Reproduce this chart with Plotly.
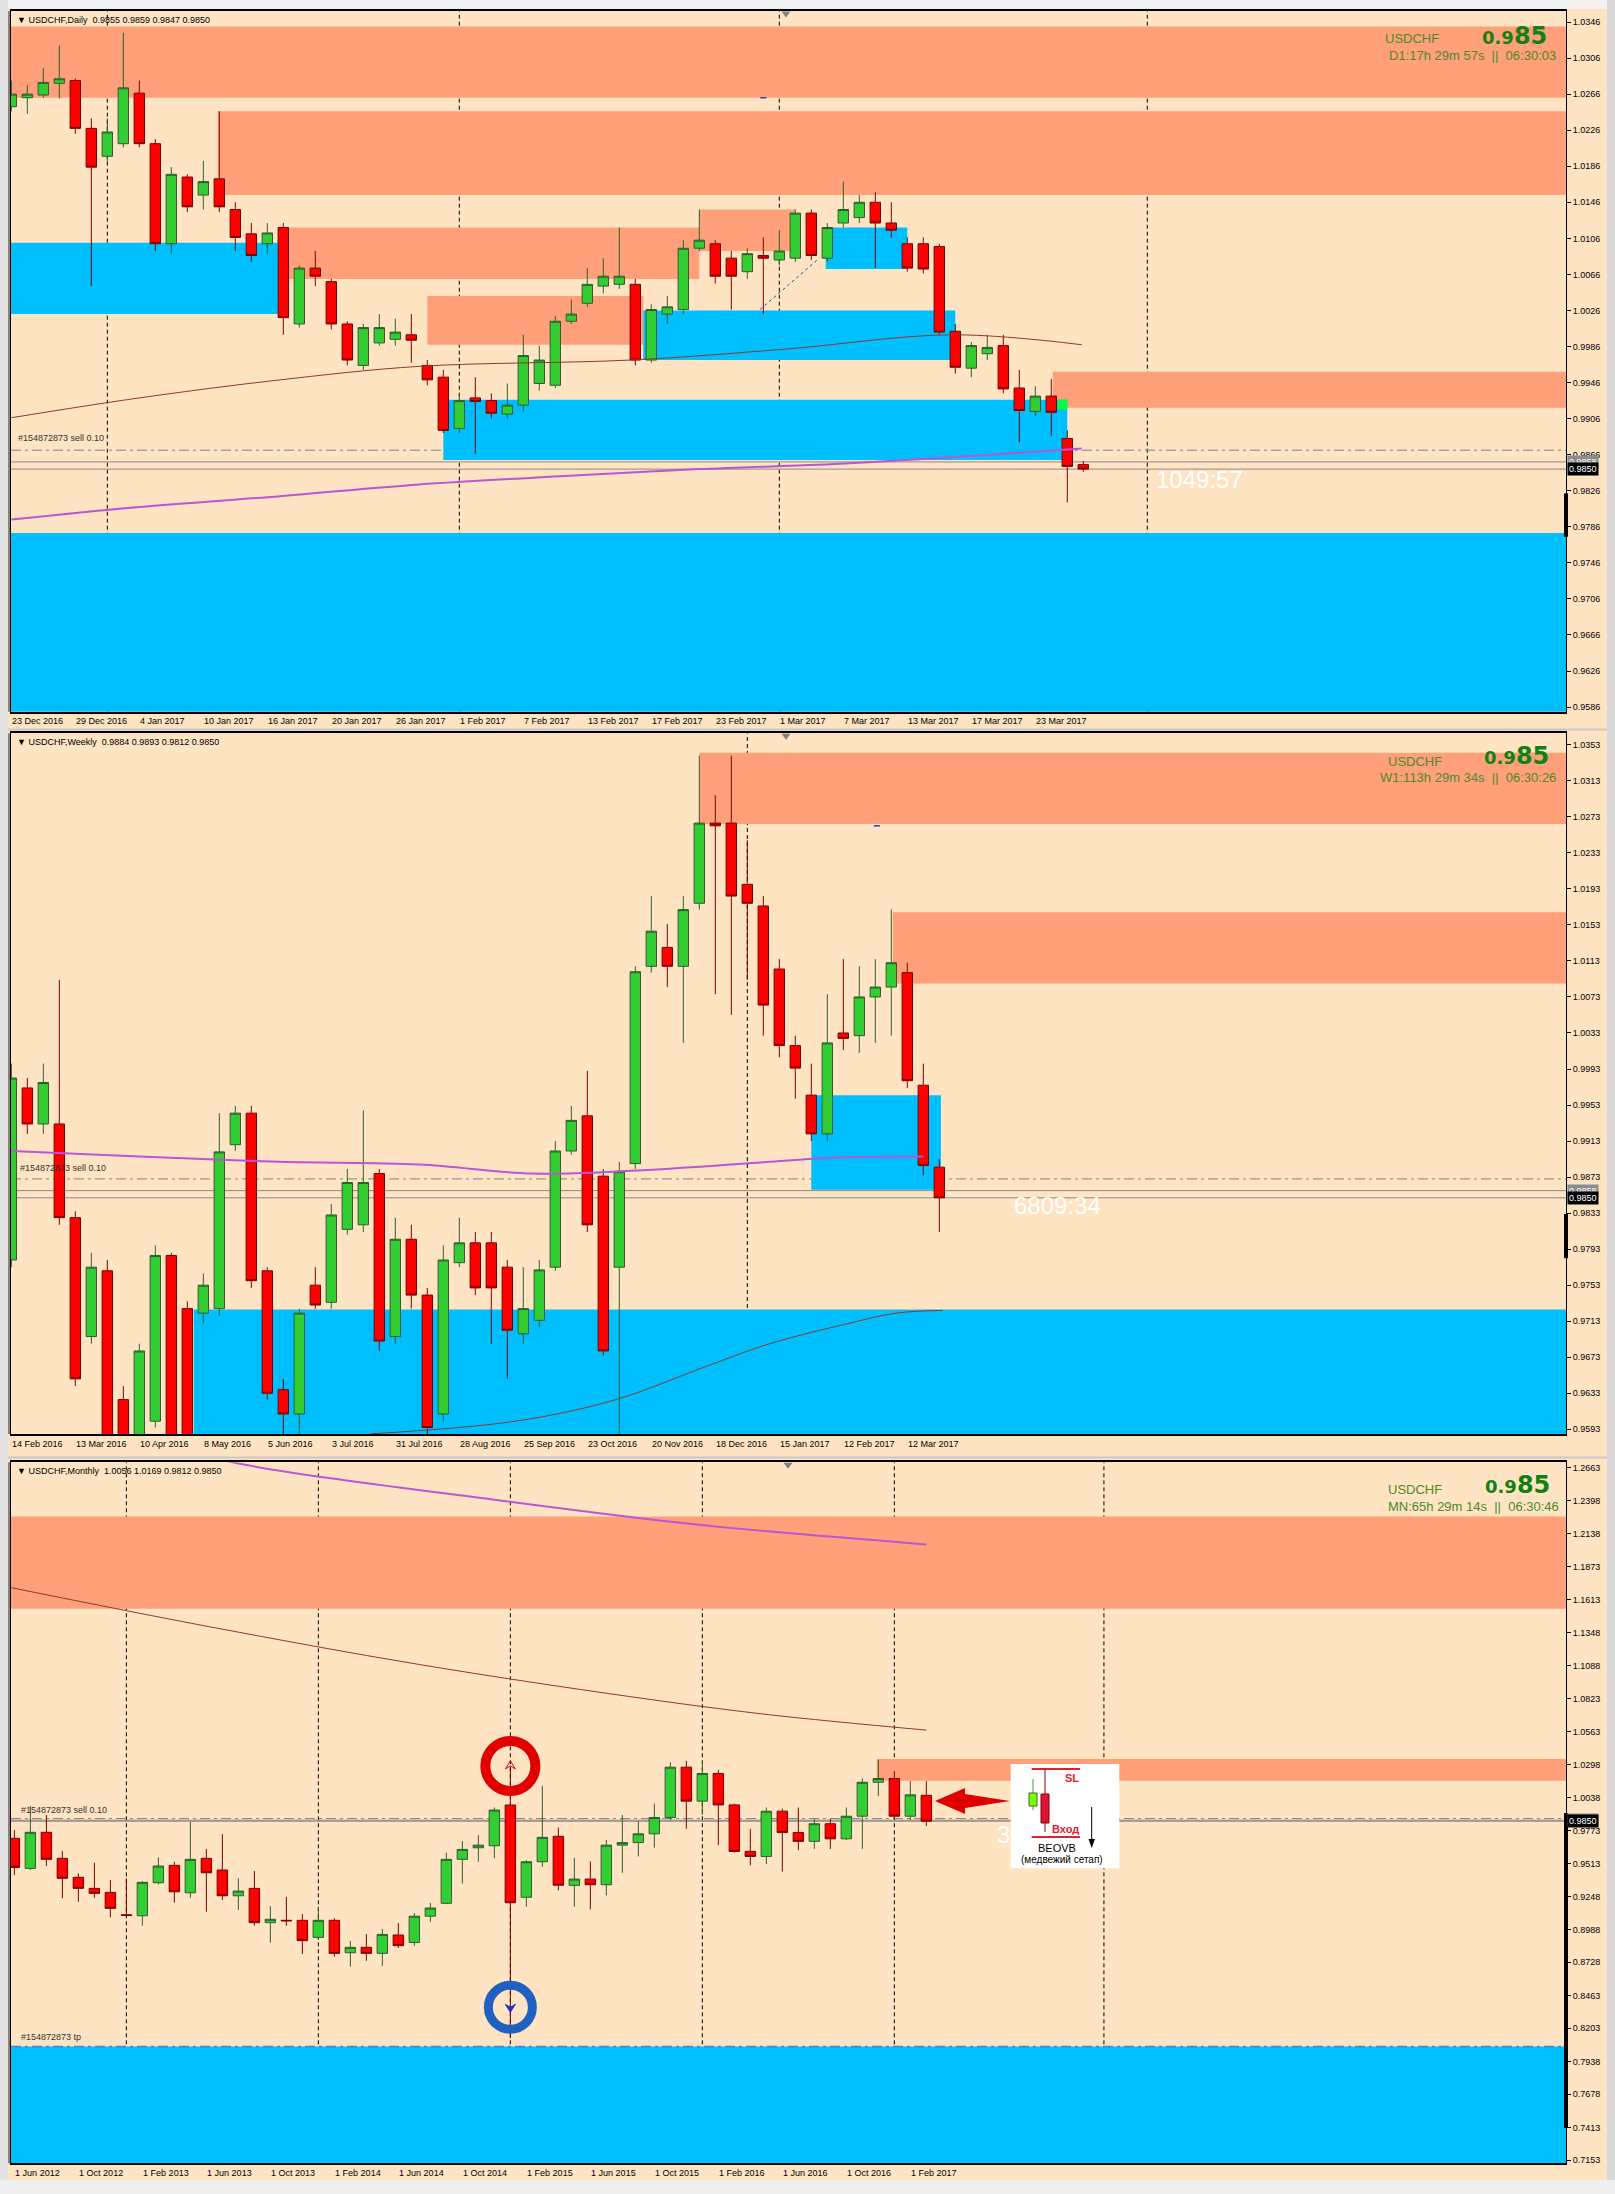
import plotly.graph_objects as go

W, H = 1615, 2194

# ======================= DATA =======================
# ---- Daily (D1) ----
d_labels = ["23 Dec 2016", "29 Dec 2016", "4 Jan 2017", "10 Jan 2017", "16 Jan 2017", "20 Jan 2017",
            "26 Jan 2017", "1 Feb 2017", "7 Feb 2017", "13 Feb 2017", "17 Feb 2017", "23 Feb 2017",
            "1 Mar 2017", "7 Mar 2017", "13 Mar 2017", "17 Mar 2017", "23 Mar 2017"]
d_label_bars = [0, 4, 8, 12, 16, 20, 24, 28, 32, 36, 40, 44, 48, 52, 56, 60, 64]
d_open = [1.0252, 1.0262, 1.0265, 1.0278, 1.0281, 1.0228, 1.0197, 1.0211, 1.0267, 1.0211,
          1.0100, 1.0174, 1.0154, 1.0172, 1.0138, 1.0111, 1.0100, 1.0118, 1.0011, 1.0073,
          1.0058, 1.0011, 0.9965, 0.9990, 0.9994, 0.9999, 0.9965, 0.9952, 0.9895, 0.9929,
          0.9926, 0.9911, 0.9921, 0.9945, 0.9943, 1.0014, 1.0034, 1.0053, 1.0055, 1.0055,
          0.9971, 1.0022, 1.0027, 1.0095, 1.0100, 1.0084, 1.0069, 1.0087, 1.0082, 1.0084,
          1.0134, 1.0084, 1.0123, 1.0129, 1.0146, 1.0123, 1.0100, 1.0100, 1.0097, 1.0003,
          0.9962, 0.9978, 0.9987, 0.9940, 0.9914, 0.9931, 0.9884, 0.9855]
d_high = [1.0281, 1.0276, 1.0295, 1.0320, 1.0283, 1.0239, 1.0239, 1.0334, 1.0281, 1.0216,
          1.0185, 1.0177, 1.0192, 1.0247, 1.0146, 1.0123, 1.0123, 1.0123, 1.0076, 1.0092,
          1.0061, 1.0014, 1.0011, 1.0022, 1.0017, 1.0022, 0.9971, 0.9960, 0.9934, 0.9952,
          0.9934, 0.9945, 0.9999, 0.9987, 1.0020, 1.0038, 1.0073, 1.0084, 1.0118, 1.0061,
          1.0033, 1.0042, 1.0104, 1.0138, 1.0104, 1.0092, 1.0095, 1.0107, 1.0115, 1.0138,
          1.0138, 1.0123, 1.0169, 1.0154, 1.0157, 1.0146, 1.0107, 1.0107, 1.0100, 1.0011,
          0.9991, 0.9999, 0.9999, 0.9960, 0.9942, 0.9950, 0.9893, 0.9859]
d_low = [1.0247, 1.0244, 1.0262, 1.0261, 1.0222, 1.0053, 1.0191, 1.0207, 1.0207, 1.0092,
         1.0089, 1.0135, 1.0138, 1.0135, 1.0092, 1.0080, 1.0089, 0.9999, 1.0007, 1.0053,
         1.0005, 0.9965, 0.9960, 0.9987, 0.9987, 0.9968, 0.9943, 0.9890, 0.9890, 0.9867,
         0.9906, 0.9906, 0.9914, 0.9937, 0.9940, 1.0011, 1.0030, 1.0045, 1.0050, 0.9965,
         0.9968, 1.0011, 1.0022, 1.0092, 1.0056, 1.0027, 1.0061, 1.0022, 1.0076, 1.0080,
         1.0082, 1.0080, 1.0118, 1.0123, 1.0073, 1.0107, 1.0069, 1.0067, 0.9999, 0.9956,
         0.9952, 0.9971, 0.9934, 0.9880, 0.9909, 0.9887, 0.9813, 0.9847]
d_close = [1.0266, 1.0266, 1.0279, 1.0283, 1.0228, 1.0185, 1.0224, 1.0273, 1.0211, 1.0100,
           1.0177, 1.0141, 1.0169, 1.0141, 1.0107, 1.0087, 1.0112, 1.0018, 1.0073, 1.0064,
           1.0011, 0.9971, 1.0007, 1.0007, 1.0002, 0.9993, 0.9949, 0.9893, 0.9926, 0.9925,
           0.9912, 0.9921, 0.9976, 0.9971, 1.0014, 1.0022, 1.0055, 1.0064, 1.0064, 0.9971,
           1.0027, 1.0030, 1.0095, 1.0104, 1.0064, 1.0064, 1.0089, 1.0084, 1.0092, 1.0134,
           1.0087, 1.0118, 1.0138, 1.0146, 1.0123, 1.0115, 1.0073, 1.0072, 1.0002, 0.9963,
           0.9987, 0.9985, 0.9939, 0.9915, 0.9931, 0.9913, 0.9853, 0.9850]
d_ticks = [1.0346, 1.0306, 1.0266, 1.0226, 1.0186, 1.0146, 1.0106, 1.0066, 1.0026, 0.9986,
           0.9946, 0.9906, 0.9866, 0.9826, 0.9786, 0.9746, 0.9706, 0.9666, 0.9626, 0.9586]
d_ma_brown_x = [0, 8, 16.8, 25.5, 38.7, 48.3, 58.8, 66.9]
d_ma_brown = [0.9907, 0.9929, 0.9949, 0.9964, 0.9971, 0.9983, 0.9999, 0.9988]
d_ma_purple_x = [0, 8, 16.8, 25.5, 34.3, 43.0, 51.8, 60.5, 66.9]
d_ma_purple = [0.9794, 0.9808, 0.9820, 0.9833, 0.9842, 0.9850, 0.9856, 0.9865, 0.9873]
# zones: (bar_from, bar_to, price_top, price_bottom, kind)
d_zones = [(-1, 200, 1.0341, 1.0262, "supply"), (12.9, 200, 1.0247, 1.0154, "supply"),
           (16.8, 43.0, 1.0118, 1.0061, "supply"), (26.0, 39.5, 1.0042, 0.9988, "supply"),
           (43.0, 49.0, 1.0138, 1.0092, "supply"), (65.1, 200, 0.9958, 0.9918, "supply"),
           (-1, 16.8, 1.0101, 1.0022, "demand"), (39.5, 59.0, 1.0026, 0.9971, "demand"),
           (50.9, 56.0, 1.0118, 1.0072, "demand"), (27.0, 66.0, 0.9927, 0.9860, "demand"),
           (-1, 200, 0.9779, 0.9000, "demand"), (65.4, 66.0, 0.9927, 0.9916, "mark")]
d_separators = [6, 28, 48, 71]
d_header = "USDCHF,Daily  0.9855 0.9859 0.9847 0.9850"
d_timer = "D1:17h 29m 57s  ||  06:30:03"
d_countdown = "1049:57"
d_trend = [(46.8, 1.0027), (50.5, 1.0084)]
d_range_bar = (0.9823, 0.9775)
d_tick_mark = (47.0, 1.0262)

# ---- Weekly (W1) ----
w_labels = ["14 Feb 2016", "13 Mar 2016", "10 Apr 2016", "8 May 2016", "5 Jun 2016", "3 Jul 2016",
            "31 Jul 2016", "28 Aug 2016", "25 Sep 2016", "23 Oct 2016", "20 Nov 2016", "18 Dec 2016",
            "15 Jan 2017", "12 Feb 2017", "12 Mar 2017"]
w_label_bars = [0, 4, 8, 12, 16, 20, 24, 28, 32, 36, 40, 44, 48, 52, 56]
w_open = [0.9781, 0.9972, 0.9932, 0.9932, 0.9828, 0.9696, 0.9769, 0.9626, 0.9587, 0.9602,
          0.9786, 0.9727, 0.9722, 0.9727, 0.9909, 0.9944, 0.9769, 0.9637, 0.9610, 0.9753,
          0.9734, 0.9815, 0.9820, 0.9877, 0.9696, 0.9804, 0.9742, 0.9610, 0.9778, 0.9800,
          0.9800, 0.9773, 0.9699, 0.9714, 0.9773, 0.9902, 0.9941, 0.9874, 0.9773, 0.9888,
          1.0107, 1.0128, 1.0107, 1.0177, 1.0266, 1.0266, 1.0198, 1.0174, 1.0104, 1.0019,
          0.9964, 0.9921, 1.0033, 1.0030, 1.0073, 1.0084, 1.0100, 0.9975, 0.9884]
w_high = [0.9999, 0.9983, 0.9999, 1.0092, 0.9835, 0.9789, 0.9781, 0.9641, 0.9688, 0.9797,
          0.9789, 0.9735, 0.9766, 0.9944, 0.9952, 0.9952, 0.9773, 0.9649, 0.9727, 0.9773,
          0.9843, 0.9882, 0.9947, 0.9882, 0.9828, 0.9820, 0.9750, 0.9797, 0.9828, 0.9812,
          0.9812, 0.9781, 0.9773, 0.9781, 0.9913, 0.9952, 0.9991, 0.9882, 0.9890, 1.0107,
          1.0185, 1.0154, 1.0185, 1.0341, 1.0297, 1.0341, 1.0247, 1.0185, 1.0115, 1.0030,
          0.9999, 1.0076, 1.0115, 1.0107, 1.0115, 1.0170, 1.0111, 0.9999, 0.9893]
w_low = [0.9773, 0.9921, 0.9921, 0.9820, 0.9641, 0.9688, 0.9564, 0.9564, 0.9564, 0.9595,
         0.9564, 0.9564, 0.9711, 0.9719, 0.9902, 0.9750, 0.9626, 0.9579, 0.9579, 0.9727,
         0.9727, 0.9809, 0.9812, 0.9680, 0.9688, 0.9727, 0.9564, 0.9602, 0.9773, 0.9742,
         0.9688, 0.9649, 0.9688, 0.9706, 0.9769, 0.9898, 0.9812, 0.9675, 0.9560, 0.9882,
         1.0100, 1.0084, 1.0022, 1.0170, 1.0076, 1.0053, 1.0092, 1.0030, 1.0006, 0.9960,
         0.9913, 0.9913, 1.0014, 1.0011, 1.0022, 1.0030, 0.9972, 0.9875, 0.9812]
w_close = [0.9983, 0.9932, 0.9978, 0.9828, 0.9649, 0.9773, 0.9579, 0.9579, 0.9680, 0.9786,
           0.9579, 0.9579, 0.9753, 0.9901, 0.9944, 0.9758, 0.9633, 0.9610, 0.9722, 0.9731,
           0.9831, 0.9867, 0.9867, 0.9691, 0.9804, 0.9742, 0.9595, 0.9781, 0.9800, 0.9750,
           0.9750, 0.9703, 0.9727, 0.9770, 0.9902, 0.9936, 0.9820, 0.9680, 0.9879, 1.0101,
           1.0146, 1.0107, 1.0170, 1.0266, 1.0263, 1.0185, 1.0177, 1.0064, 1.0019, 0.9994,
           0.9921, 1.0022, 1.0027, 1.0073, 1.0084, 1.0111, 0.9980, 0.9886, 0.9850]
w_ticks = [1.0353, 1.0313, 1.0273, 1.0233, 1.0193, 1.0153, 1.0113, 1.0073, 1.0033, 0.9993,
           0.9953, 0.9913, 0.9873, 0.9833, 0.9793, 0.9753, 0.9713, 0.9673, 0.9633, 0.9593]
w_ma_brown_x = [22.5, 31.5, 37.8, 43.0, 47.4, 52.2, 55.3, 58.2]
w_ma_brown = [0.9588, 0.9602, 0.9626, 0.9660, 0.9688, 0.9710, 0.9722, 0.9725]
w_ma_purple_x = [0, 8, 16.8, 25.5, 32.5, 38.7, 47.4, 51.8, 57.0]
w_ma_purple = [0.9902, 0.9896, 0.9890, 0.9887, 0.9877, 0.9880, 0.9890, 0.9895, 0.9896]
w_zones = [(43.0, 200, 1.0344, 1.0265, "supply"), (55.1, 200, 1.0167, 1.0088, "supply"),
           (50.0, 58.1, 0.9964, 0.9859, "demand"), (11.4, 200, 0.9726, 0.9000, "demand")]
w_separators = [46]
w_header = "USDCHF,Weekly  0.9884 0.9893 0.9812 0.9850"
w_timer = "W1:113h 29m 34s  ||  06:30:26"
w_countdown = "6809:34"
w_range_bar = (0.9832, 0.9783)
w_tick_mark = (54.1, 1.0263)

# ---- Monthly (MN) ----
m_labels = ["1 Jun 2012", "1 Oct 2012", "1 Feb 2013", "1 Jun 2013", "1 Oct 2013", "1 Feb 2014",
            "1 Jun 2014", "1 Oct 2014", "1 Feb 2015", "1 Jun 2015", "1 Oct 2015", "1 Feb 2016",
            "1 Jun 2016", "1 Oct 2016", "1 Feb 2017"]
m_label_bars = [0, 4, 8, 12, 16, 20, 24, 28, 32, 36, 40, 44, 48, 52, 56]
m_open = [0.9714, 0.9475, 0.9762, 0.9555, 0.9404, 0.9316, 0.9284, 0.9106, 0.9098, 0.9361,
          0.9499, 0.9281, 0.9555, 0.9462, 0.9257, 0.9316, 0.9043, 0.9062, 0.9062, 0.8926,
          0.9062, 0.8804, 0.8847, 0.8799, 0.8945, 0.8885, 0.9095, 0.9197, 0.9547, 0.9639,
          0.9655, 0.9979, 0.9245, 0.9528, 0.9730, 0.9340, 0.9390, 0.9345, 0.9660, 0.9680,
          0.9750, 0.9880, 1.0280, 1.0010, 1.0230, 0.9980, 0.9610, 0.9570, 0.9930, 0.9760,
          0.9690, 0.9830, 0.9710, 0.9890, 1.0160, 1.0190, 0.9890, 1.0056]
m_high = [0.9780, 0.9971, 0.9899, 0.9613, 0.9435, 0.9520, 0.9382, 0.9396, 0.9374, 0.9563,
          0.9528, 0.9846, 0.9629, 0.9748, 0.9396, 0.9454, 0.9175, 0.9249, 0.9112, 0.9170,
          0.9078, 0.8897, 0.8953, 0.8992, 0.9040, 0.9120, 0.9200, 0.9600, 0.9692, 0.9740,
          0.9960, 1.0284, 0.9540, 1.0132, 0.9800, 0.9560, 0.9530, 0.9700, 0.9900, 0.9850,
          0.9990, 1.0320, 1.0330, 1.0330, 1.0260, 0.9990, 0.9790, 0.9960, 0.9950, 0.9960,
          0.9870, 0.9870, 0.9960, 1.0190, 1.0340, 1.0250, 1.0170, 1.0169]
m_low = [0.9422, 0.9462, 0.9494, 0.9237, 0.9210, 0.9241, 0.9085, 0.9090, 0.9019, 0.9348,
         0.9202, 0.9241, 0.9130, 0.9223, 0.9144, 0.9019, 0.8883, 0.9019, 0.8794, 0.8905,
         0.8772, 0.8692, 0.8740, 0.8700, 0.8841, 0.8860, 0.9050, 0.9190, 0.9353, 0.9528,
         0.9555, 0.8124, 0.9170, 0.9488, 0.9300, 0.9170, 0.9150, 0.9260, 0.9440, 0.9570,
         0.9640, 0.9860, 0.9790, 0.9900, 0.9660, 0.9600, 0.9500, 0.9510, 0.9450, 0.9620,
         0.9630, 0.9630, 0.9700, 0.9630, 1.0050, 0.9870, 0.9860, 0.9812]
m_close = [0.9483, 0.9762, 0.9547, 0.9396, 0.9316, 0.9276, 0.9157, 0.9101, 0.9364, 0.9494,
           0.9289, 0.9547, 0.9440, 0.9257, 0.9295, 0.9043, 0.9070, 0.9058, 0.8900, 0.9062,
           0.8799, 0.8847, 0.8799, 0.8950, 0.8860, 0.9095, 0.9160, 0.9547, 0.9626, 0.9660,
           0.9939, 0.9202, 0.9528, 0.9722, 0.9341, 0.9390, 0.9345, 0.9660, 0.9680, 0.9750,
           0.9880, 1.0280, 1.0010, 1.0230, 0.9980, 0.9610, 0.9570, 0.9930, 0.9760, 0.9690,
           0.9830, 0.9710, 0.9890, 1.0160, 1.0190, 0.9890, 1.0060, 0.9850]
m_ticks = [1.2663, 1.2398, 1.2138, 1.1873, 1.1613, 1.1348, 1.1088, 1.0823, 1.0563, 1.0298, 1.0038,
           0.9773, 0.9513, 0.9248, 0.8988, 0.8728, 0.8463, 0.8203, 0.7938, 0.7678, 0.7413, 0.7153]
m_ma_brown_x = [-0.2, 12.2, 25.3, 38.5, 47.2, 57.0]
m_ma_brown = [1.1708, 1.1397, 1.1097, 1.0841, 1.0697, 1.0575]
m_ma_purple_x = [9.6, 14.0, 30.0, 42.8, 57.0]
m_ma_purple = [1.2850, 1.2696, 1.2408, 1.2208, 1.2052]
m_zones = [(-1, 200, 1.2275, 1.1540, "supply"), (53.9, 200, 1.0346, 1.0172, "supply"),
           (-1, 200, 0.8059, 0.6000, "demand")]
m_separators = [7, 19, 31, 43, 55, 68.1]
m_header = "USDCHF,Monthly  1.0056 1.0169 0.9812 0.9850"
m_timer = "MN:65h 29m 14s  ||  06:30:46"
m_range_bar = (0.9916, 0.7410)
m_spike_bar = 31
m_spike_high_mark = 1.0290
m_spike_low_mark = 0.8370

# trade levels
entry_price = 0.9871
tp_price = 0.8059
bid_price = 0.9850
ask_price = 0.9858
symbol = "USDCHF"
last_price = "0.985"

# ======================= STYLE / LAYOUT =======================
BG = "#FFE4C4"
SUPPLY = "#FFA07A"
DEMAND = "#00BFFF"
MARK = "#00FF40"
FONT = "Liberation Sans, Arial, DejaVu Sans"
X_LEFT, X_RIGHT = 11.0, 1566.0

panels = [
    dict(top=11.0, bottom=711.7, xr=[-0.02, 97.17], yr=[0.95809, 1.03582]),
    dict(top=733.3, bottom=1434.0, xr=[-0.02, 97.17], yr=[0.95878, 1.03657]),
    dict(top=1462.3, bottom=2163.3, xr=[-0.21, 96.98], yr=[0.71291, 1.27052]),
]

fig = go.Figure()


def px(x):
    return x / W


def py(y):
    return 1 - y / H


def axnames(i):
    s = "" if i == 0 else str(i + 1)
    return "x" + s, "y" + s, "xaxis" + s, "yaxis" + s


datasets = [
    (d_open, d_high, d_low, d_close, d_labels, d_label_bars, d_ticks, d_zones, d_separators,
     (d_ma_brown_x, d_ma_brown), (d_ma_purple_x, d_ma_purple)),
    (w_open, w_high, w_low, w_close, w_labels, w_label_bars, w_ticks, w_zones, w_separators,
     (w_ma_brown_x, w_ma_brown), (w_ma_purple_x, w_ma_purple)),
    (m_open, m_high, m_low, m_close, m_labels, m_label_bars, m_ticks, m_zones, m_separators,
     (m_ma_brown_x, m_ma_brown), (m_ma_purple_x, m_ma_purple)),
]

layout_axes = {}
for i, (pan, ds) in enumerate(zip(panels, datasets)):
    o, h, l, c, labels, lbars, ticks, zones, seps, mab, map_ = ds
    xa, ya, xk, yk = axnames(i)
    layout_axes[xk] = dict(domain=[px(X_LEFT), px(X_RIGHT)], range=pan["xr"], anchor=ya,
                           showgrid=False, zeroline=False, tickmode="array", tickvals=lbars,
                           ticktext=labels, ticks="", ticklabelposition="outside right",
                           tickfont=dict(family=FONT, size=9, color="black"), showline=True,
                           linecolor="black", linewidth=1.5, mirror=True,
                           rangeslider=dict(visible=False), fixedrange=True, automargin=False)
    layout_axes[yk] = dict(domain=[py(pan["bottom"]), py(pan["top"])], range=pan["yr"], anchor=xa,
                           side="right", showgrid=False, zeroline=False, tickmode="array",
                           tickvals=ticks, ticktext=[f"{v:.4f}" for v in ticks], ticks="outside",
                           ticklen=4, tickcolor="black",
                           tickfont=dict(family=FONT, size=9, color="black"), showline=True,
                           linecolor="black", linewidth=1, mirror=True, fixedrange=True,
                           automargin=False)
    # zones
    for (x0, x1, p0, p1, kind) in zones:
        col = {"supply": SUPPLY, "demand": DEMAND, "mark": MARK}[kind]
        fig.add_shape(type="rect", xref=xa, yref=ya, x0=x0, x1=x1, y0=p1, y1=p0,
                      fillcolor=col, line=dict(width=0), layer="below")
    # separators
    for s in seps:
        fig.add_shape(type="line", xref=xa, yref=ya + " domain", x0=s, x1=s, y0=0, y1=1,
                      line=dict(color="black", width=1, dash="4px,3px"), layer="below")
    # trade levels
    fig.add_shape(type="line", xref=xa + " domain", yref=ya, x0=0, x1=1, y0=entry_price,
                  y1=entry_price, line=dict(color="#808080", width=1, dash="10px,4px,3px,4px"),
                  layer="below")
    for p in (ask_price, bid_price):
        fig.add_shape(type="line", xref=xa + " domain", yref=ya, x0=0, x1=1, y0=p, y1=p,
                      line=dict(color="#8a8a8a", width=1), layer="below")
    # moving averages
    fig.add_trace(go.Scatter(x=mab[0], y=mab[1], xaxis=xa, yaxis=ya, mode="lines",
                             line=dict(color="#8B3A2A", width=1, shape="spline"), hoverinfo="skip"))
    fig.add_trace(go.Scatter(x=map_[0], y=map_[1], xaxis=xa, yaxis=ya, mode="lines",
                             line=dict(color="#BA55D3", width=2, shape="spline"), hoverinfo="skip"))
    # candles
    fig.add_trace(go.Candlestick(x=list(range(len(o))), open=o, high=h, low=l, close=c,
                                 xaxis=xa, yaxis=ya, hoverinfo="skip", whiskerwidth=0,
                                 increasing=dict(fillcolor="#32CD32",
                                                 line=dict(color="#2E5E2E", width=1)),
                                 decreasing=dict(fillcolor="#FF0000",
                                                 line=dict(color="#7A0000", width=1))))

# tp line in monthly
fig.add_shape(type="line", xref="x3 domain", yref="y3", x0=0, x1=1, y0=tp_price, y1=tp_price,
              line=dict(color="#5b78d8", width=1.5, dash="10px,4px,3px,4px"))

# daily blue trend line
fig.add_shape(type="line", xref="x", yref="y", x0=d_trend[0][0], y0=d_trend[0][1],
              x1=d_trend[1][0], y1=d_trend[1][1], line=dict(color="#2040C0", width=1, dash="dot"))

# small blue order marks
for (xa, ya, mk) in [("x", "y", d_tick_mark), ("x2", "y2", w_tick_mark)]:
    fig.add_shape(type="line", xref=xa, yref=ya, xsizemode="pixel", xanchor=mk[0], x0=-3, x1=3,
                  y0=mk[1], y1=mk[1], line=dict(color="#2040C0", width=1.5))

# thick range bars on price axes
for i, rb in enumerate([d_range_bar, w_range_bar, m_range_bar]):
    _, ya, _, _ = axnames(i)
    fig.add_shape(type="line", xref="paper", yref=ya, x0=px(X_RIGHT), x1=px(X_RIGHT),
                  y0=rb[0], y1=rb[1], line=dict(color="black", width=4))


def ann(text, x, y, size, color, xanchor="left", yanchor="middle", family=FONT, bg=None,
        yref="paper"):
    fig.add_annotation(text=text, x=px(x), y=(py(y) if yref == "paper" else y), xref="paper",
                       yref=yref, showarrow=False, xanchor=xanchor, yanchor=yanchor,
                       font=dict(size=size, color=color, family=family),
                       bgcolor=bg, borderpad=1)


NB = "\u00a0"
headers = [d_header, w_header, m_header]
timers = [d_timer, w_timer, m_timer]
hdr_y = [19.5, 741.7, 1471.0]
sym_pos = [(1383, 38.5), (1386, 761), (1386, 1489.5)]
big_pos = [(1480, 36), (1482, 756), (1483, 1485)]
tim_pos = [(1387, 55), (1378, 777), (1386, 1506)]
GREEN_TXT = "#4A8A2A"
for i in range(3):
    ann("\u25BC " + headers[i].replace("  ", NB + NB), 15, hdr_y[i], 9, "black")
    ann(symbol, sym_pos[i][0], sym_pos[i][1], 13, GREEN_TXT)
    ann("<b><span style='font-size:18px'>" + last_price[:3] + "</span>" + last_price[3:] + "</b>",
        big_pos[i][0], big_pos[i][1], 24, "#128012", family="DejaVu Sans")
    ann(timers[i].replace("  ", NB + NB), tim_pos[i][0], tim_pos[i][1], 13, GREEN_TXT)
    _, ya, _, _ = axnames(i)
    # price boxes
    ann(f"{ask_price:.4f}", 1567, ask_price, 9, "white", bg="#8c8c8c", yref=ya)
    ann(f"{bid_price:.4f}", 1567, bid_price, 9, "white", bg="black", yref=ya)

# countdown texts
ann(d_countdown, 1199, 479, 24, "white", xanchor="center")
ann(w_countdown, 1057, 1205, 24, "white", xanchor="center")
ann("3", 1003, 1834, 24, "white", xanchor="center")

# order labels
ann("#154872873 sell 0.10", 16, 445, 9, "#333333", yanchor="bottom")
ann("#154872873 sell 0.10", 18, 1175, 9, "#333333", yanchor="bottom")
ann("#154872873 sell 0.10", 19, 1817, 9, "#333333", yanchor="bottom")
ann("#154872873 tp", 19, 2044, 9, "#333333", yanchor="bottom")

# circles around the spike bar
fig.add_shape(type="circle", xref="x3", yref="y3", xsizemode="pixel", ysizemode="pixel",
              xanchor=m_spike_bar, yanchor=m_spike_high_mark, x0=-25, x1=25, y0=-25, y1=25,
              line=dict(color="#E00000", width=10))
fig.add_shape(type="circle", xref="x3", yref="y3", xsizemode="pixel", ysizemode="pixel",
              xanchor=m_spike_bar, yanchor=m_spike_low_mark, x0=-22, x1=22, y0=-22, y1=22,
              line=dict(color="#2060C0", width=9))
fig.add_shape(type="path", xref="x3", yref="y3", xsizemode="pixel", ysizemode="pixel",
              xanchor=m_spike_bar, yanchor=m_spike_high_mark,
              path="M -5,-3 L 0,5 L 5,-3 L 0,0 Z", line=dict(color="#E00000", width=1),
              fillcolor="rgba(0,0,0,0)")
fig.add_shape(type="path", xref="x3", yref="y3", xsizemode="pixel", ysizemode="pixel",
              xanchor=m_spike_bar, yanchor=m_spike_low_mark,
              path="M -5,3 L 0,-5 L 5,3 L 0,0 Z", line=dict(color="#2030C0", width=1),
              fillcolor="#2030C0")


def ppath(pts):
    return "M " + " L ".join(f"{px(x):.6f},{py(y):.6f}" for x, y in pts) + " Z"


# red pointer arrow
fig.add_shape(type="path", xref="paper", yref="paper",
              path=ppath([(935, 1801), (965, 1788), (965, 1794), (1010, 1801), (965, 1808), (965, 1814)]),
              fillcolor="#E00000", line=dict(width=0))

# BEOVB legend box
fig.add_shape(type="rect", xref="paper", yref="paper", x0=px(1010.7), x1=px(1119.3), y0=py(1868.3),
              y1=py(1764), fillcolor="white", line=dict(width=0))
for (yl) in (1769, 1837):
    fig.add_shape(type="line", xref="paper", yref="paper", x0=px(1031.7), x1=px(1080), y0=py(yl),
                  y1=py(yl), line=dict(color="#E0202A", width=2))
fig.add_shape(type="line", xref="paper", yref="paper", x0=px(1033), x1=px(1033), y0=py(1779),
              y1=py(1810), line=dict(color="#4C9A2A", width=1))
fig.add_shape(type="rect", xref="paper", yref="paper", x0=px(1029), x1=px(1037), y0=py(1806),
              y1=py(1793), fillcolor="#7CFC00", line=dict(color="#3A6A2A", width=1))
fig.add_shape(type="line", xref="paper", yref="paper", x0=px(1045), x1=px(1045), y0=py(1769),
              y1=py(1832), line=dict(color="#8B0000", width=1))
fig.add_shape(type="rect", xref="paper", yref="paper", x0=px(1041), x1=px(1049), y0=py(1823),
              y1=py(1794), fillcolor="#DC143C", line=dict(color="#8B0000", width=1))
fig.add_shape(type="line", xref="paper", yref="paper", x0=px(1091.7), x1=px(1091.7), y0=py(1807),
              y1=py(1846), line=dict(color="black", width=1))
fig.add_shape(type="path", xref="paper", yref="paper",
              path=ppath([(1088.5, 1839), (1091.7, 1848), (1094.9, 1839)]),
              fillcolor="black", line=dict(width=0))
ann("<b>SL</b>", 1072, 1778, 11, "#E0202A", xanchor="center")
ann("<b>Вход</b>", 1065, 1829, 11, "#E0202A", xanchor="center")
ann("BEOVB", 1057, 1847.5, 11, "black", xanchor="center")
ann("(медвежий сетап)", 1062, 1859.5, 10, "black", xanchor="center")

# chart shift markers
for (cx, cy) in [(786, 11.5), (786, 733.8), (788, 1462.8)]:
    fig.add_shape(type="path", xref="paper", yref="paper",
                  path=ppath([(cx - 4.5, cy), (cx + 4.5, cy), (cx, cy + 6)]),
                  fillcolor="#7f7f7f", line=dict(width=0))

# window frame
fig.add_shape(type="rect", xref="paper", yref="paper", x0=0, x1=1, y0=py(9), y1=1,
              fillcolor="#F2F2F2", line=dict(width=0))
fig.add_shape(type="rect", xref="paper", yref="paper", x0=0, x1=px(8), y0=0, y1=1,
              fillcolor="#E2E2E2", line=dict(width=0))
fig.add_shape(type="rect", xref="paper", yref="paper", x0=px(1607), x1=1, y0=0, y1=1,
              fillcolor="#D9D9D9", line=dict(width=0))
fig.add_shape(type="rect", xref="paper", yref="paper", x0=0, x1=1, y0=0, y1=py(2180),
              fillcolor="#EFEFEF", line=dict(width=0))
for yl in (729.5, 1457.5):
    fig.add_shape(type="line", xref="paper", yref="paper", x0=px(8), x1=px(1607), y0=py(yl),
                  y1=py(yl), line=dict(color="#C8C8C8", width=2))
for pan in panels:
    fig.add_shape(type="line", xref="paper", yref="paper", x0=px(9), x1=px(9), y0=py(pan["bottom"]),
                  y1=py(pan["top"]), line=dict(color="#202020", width=1))

fig.update_layout(width=W, height=H, margin=dict(l=0, r=0, t=0, b=0), paper_bgcolor=BG,
                  plot_bgcolor=BG, showlegend=False, boxgap=0.35, boxgroupgap=0,
                  hovermode=False, **layout_axes)

fig.write_html("out.html", include_plotlyjs=True, config={"displayModeBar": False})
